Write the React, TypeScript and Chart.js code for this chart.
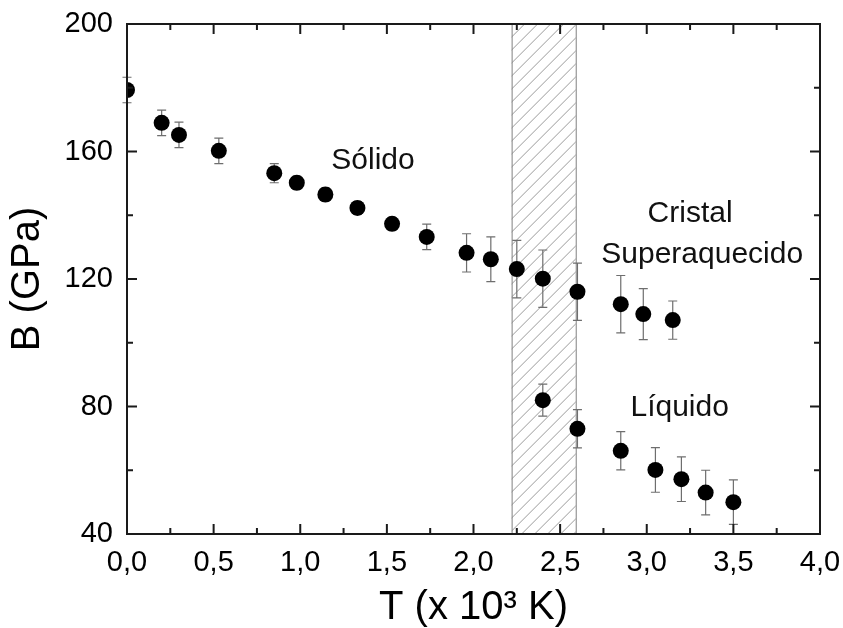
import React, { useEffect, useRef } from "react";
import { Chart, registerables } from "chart.js";

Chart.register(...registerables);

// ---- Data ----
const solidT = [0.0, 0.2, 0.3, 0.53, 0.85, 0.98, 1.145, 1.33, 1.53, 1.73, 1.96, 2.1, 2.25, 2.4, 2.6, 2.85, 2.98, 3.15];
const solidB = [179.3, 169.0, 165.2, 160.2, 153.2, 150.2, 146.5, 142.3, 137.3, 133.2, 128.2, 126.2, 123.1, 120.1, 116.0, 112.1, 109.0, 107.1];
const solidErr = [4, 4, 4, 4, 3, 2, 2, 2, 2, 4, 6, 7, 9, 9, 9, 9, 8, 6];

const liquidT = [2.4, 2.6, 2.85, 3.05, 3.2, 3.34, 3.5];
const liquidB = [82.0, 73.0, 66.1, 60.1, 57.2, 53.0, 50.0];
const liquidErr = [5, 6, 6, 7, 7, 7, 7];

const bandRange = [2.22, 2.59];

const annotationTexts = ["Sólido", "Cristal", "Superaquecido", "Líquido"];
const annotationT = [1.42, 3.25, 3.32, 3.19];
const annotationB = [157.2, 140.4, 127.6, 79.6];

const xTitle = "T (x 10³ K)";
const yTitle = "B (GPa)";

const FONT = "'Liberation Sans', Arial, Helvetica, sans-serif";

export default function App() {
  const canvasRef = useRef<HTMLCanvasElement | null>(null);

  useEffect(() => {
    const canvas = canvasRef.current;
    if (!canvas) return;
    const errors: number[][] = [solidErr, liquidErr];

    const bandPlugin = {
      id: "band",
      beforeDatasetsDraw(chart: any) {
        const { ctx, chartArea } = chart;
        const xs = chart.scales.x;
        const x0 = xs.getPixelForValue(bandRange[0]);
        const x1 = xs.getPixelForValue(bandRange[1]);
        const top = chartArea.top;
        const bottom = chartArea.bottom;
        const h = bottom - top;
        ctx.save();
        ctx.beginPath();
        ctx.rect(x0, top, x1 - x0, h);
        ctx.clip();
        ctx.strokeStyle = "#9a9a9a";
        ctx.lineWidth = 1;
        ctx.beginPath();
        for (let k = x0 - h; k < x1 + 13; k += 13) {
          ctx.moveTo(k, bottom);
          ctx.lineTo(k + h, top);
        }
        ctx.stroke();
        ctx.restore();
        ctx.save();
        ctx.strokeStyle = "#808080";
        ctx.lineWidth = 1;
        ctx.strokeRect(x0 + 0.5, top, x1 - x0, h);
        ctx.restore();
      },
    };

    const errorBarPlugin = {
      id: "errorBars",
      beforeDatasetsDraw(chart: any) {
        const { ctx } = chart;
        const ys = chart.scales.y;
        ctx.save();
        ctx.strokeStyle = "#6e6e6e";
        ctx.lineWidth = 1.2;
        chart.data.datasets.forEach((ds: any, di: number) => {
          const meta = chart.getDatasetMeta(di);
          const errs = errors[di];
          meta.data.forEach((el: any, i: number) => {
            const v = ds.data[i].y;
            const e = errs[i];
            const yt = ys.getPixelForValue(v + e);
            const yb = ys.getPixelForValue(v - e);
            const x = el.x;
            ctx.beginPath();
            ctx.moveTo(x, yt);
            ctx.lineTo(x, yb);
            ctx.moveTo(x - 4.5, yt);
            ctx.lineTo(x + 4.5, yt);
            ctx.moveTo(x - 4.5, yb);
            ctx.lineTo(x + 4.5, yb);
            ctx.stroke();
          });
        });
        ctx.restore();
      },
    };

    const framePlugin = {
      id: "frame",
      afterDatasetsDraw(chart: any) {
        const { ctx, chartArea } = chart;
        const { left, right, top, bottom } = chartArea;
        const xs = chart.scales.x;
        const ys = chart.scales.y;
        ctx.save();
        ctx.strokeStyle = "#1a1a1a";
        ctx.lineWidth = 2;
        ctx.strokeRect(left, top, right - left, bottom - top);
        ctx.beginPath();
        const xt = xs.ticks.map((t: any) => t.value);
        for (let i = 0; i < xt.length; i++) {
          const p = xs.getPixelForValue(xt[i]);
          ctx.moveTo(p, bottom);
          ctx.lineTo(p, bottom - 10);
          ctx.moveTo(p, top);
          ctx.lineTo(p, top + 10);
          if (i < xt.length - 1) {
            const m = xs.getPixelForValue((xt[i] + xt[i + 1]) / 2);
            ctx.moveTo(m, bottom);
            ctx.lineTo(m, bottom - 6);
            ctx.moveTo(m, top);
            ctx.lineTo(m, top + 6);
          }
        }
        const yt = ys.ticks.map((t: any) => t.value);
        for (let i = 0; i < yt.length; i++) {
          const p = ys.getPixelForValue(yt[i]);
          ctx.moveTo(left, p);
          ctx.lineTo(left + 10, p);
          ctx.moveTo(right, p);
          ctx.lineTo(right - 10, p);
          if (i < yt.length - 1) {
            const m = ys.getPixelForValue((yt[i] + yt[i + 1]) / 2);
            ctx.moveTo(left, m);
            ctx.lineTo(left + 6, m);
            ctx.moveTo(right, m);
            ctx.lineTo(right - 6, m);
          }
        }
        ctx.stroke();
        ctx.restore();

        ctx.save();
        ctx.fillStyle = "#111";
        ctx.font = `30px ${FONT}`;
        ctx.textAlign = "center";
        ctx.textBaseline = "middle";
        annotationTexts.forEach((t, i) => {
          ctx.fillText(t, xs.getPixelForValue(annotationT[i]), ys.getPixelForValue(annotationB[i]));
        });
        ctx.restore();
      },
    };

    const zeroPad = (s: any) => {
      s.paddingTop = 0;
      s.paddingBottom = 0;
      s.paddingLeft = 0;
      s.paddingRight = 0;
    };

    const chart = new Chart(canvas, {
      type: "scatter",
      data: {
        datasets: [
          {
            label: "Sólido",
            data: solidT.map((t, i) => ({ x: t, y: solidB[i] })),
            pointRadius: 8,
            pointBackgroundColor: "#000",
            pointBorderColor: "#000",
            pointBorderWidth: 0,
            showLine: false,
          },
          {
            label: "Líquido",
            data: liquidT.map((t, i) => ({ x: t, y: liquidB[i] })),
            pointRadius: 8,
            pointBackgroundColor: "#000",
            pointBorderColor: "#000",
            pointBorderWidth: 0,
            showLine: false,
          },
        ],
      },
      options: {
        responsive: false,
        animation: false,
        devicePixelRatio: 1,
        layout: { padding: { top: 24, right: 23, left: 0, bottom: 0 } },
        plugins: { legend: { display: false }, tooltip: { enabled: false } },
        scales: {
          x: {
            type: "linear",
            min: 0,
            max: 4,
            grid: { display: false, drawTicks: false },
            border: { display: false },
            ticks: {
              stepSize: 0.5,
              color: "#000",
              padding: 12,
              font: { size: 29, family: FONT },
              callback: (v: any) => Number(v).toFixed(1).replace(".", ","),
            },
            title: {
              display: true,
              text: xTitle,
              color: "#000",
              font: { size: 40, family: FONT },
              padding: { top: 0, bottom: -4 },
            },
            afterFit: (s: any) => {
              s.height = 94;
              zeroPad(s);
            },
          },
          y: {
            type: "linear",
            min: 40,
            max: 200,
            grid: { display: false, drawTicks: false },
            border: { display: false },
            ticks: {
              stepSize: 40,
              color: "#000",
              padding: 14,
              font: { size: 29, family: FONT },
            },
            title: {
              display: true,
              text: yTitle,
              color: "#000",
              font: { size: 40, family: FONT },
              padding: { top: 4, bottom: 0 },
            },
            afterFit: (s: any) => {
              s.width = 127;
              zeroPad(s);
            },
          },
        },
      },
      plugins: [bandPlugin, errorBarPlugin, framePlugin],
    });
    return () => chart.destroy();
  }, []);

  return (
    <div style={{ position: "absolute", left: 0, top: 0, width: 843, height: 628, background: "#fff" }}>
      <canvas ref={canvasRef} width={843} height={628} />
    </div>
  );
}
